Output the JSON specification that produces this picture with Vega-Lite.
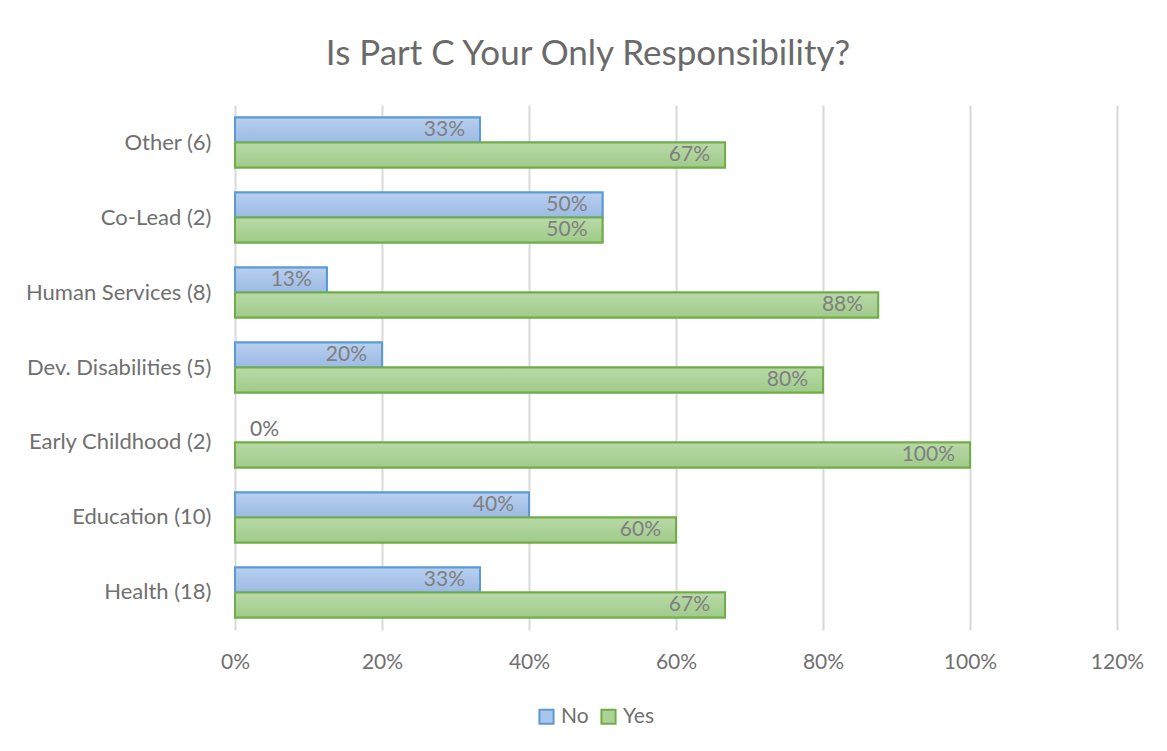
{
  "$schema": "https://vega.github.io/schema/vega-lite/v6.json",
  "autosize": "none",
  "width": 882,
  "height": 525,
  "padding": {"left": 235, "top": 105, "right": 50, "bottom": 121},
  "background": "white",
  "config": {
    "view": {"stroke": null},
    "font": "Lato",
    "axis": {"labelFont": "Lato", "labelColor": "#707070", "labelFontSize": 21, "ticks": false, "domain": false, "title": null}
  },
  "title": {
    "text": "Is Part C Your Only Responsibility?",
    "fontSize": 35,
    "fontWeight": "normal",
    "font": "Lato",
    "color": "#6a6a6a",
    "dx": -88,
    "offset": 33
  },
  "data": {
    "values": [
      {"category": "Other (6)", "series": "No", "value": 0.3333},
      {"category": "Other (6)", "series": "Yes", "value": 0.6667},
      {"category": "Co-Lead (2)", "series": "No", "value": 0.5},
      {"category": "Co-Lead (2)", "series": "Yes", "value": 0.5},
      {"category": "Human Services (8)", "series": "No", "value": 0.125},
      {"category": "Human Services (8)", "series": "Yes", "value": 0.875},
      {"category": "Dev. Disabilities (5)", "series": "No", "value": 0.2},
      {"category": "Dev. Disabilities (5)", "series": "Yes", "value": 0.8},
      {"category": "Early Childhood (2)", "series": "No", "value": 0},
      {"category": "Early Childhood (2)", "series": "Yes", "value": 1},
      {"category": "Education (10)", "series": "No", "value": 0.4},
      {"category": "Education (10)", "series": "Yes", "value": 0.6},
      {"category": "Health (18)", "series": "No", "value": 0.3333},
      {"category": "Health (18)", "series": "Yes", "value": 0.6667}
    ]
  },
  "encoding": {
    "y": {
      "field": "category",
      "type": "nominal",
      "sort": null,
      "scale": {"paddingInner": 0.3333, "paddingOuter": 0.1667},
      "axis": {"labelPadding": 24, "grid": false, "labelFontSize": 22, "labelLimit": 0}
    },
    "yOffset": {
      "field": "series",
      "type": "nominal",
      "sort": ["No", "Yes"],
      "scale": {"paddingInner": 0, "paddingOuter": 0}
    },
    "x": {
      "field": "value",
      "type": "quantitative",
      "scale": {"domain": [0, 1.2], "nice": false},
      "axis": {
        "format": ".0%",
        "values": [0, 0.2, 0.4, 0.6, 0.8, 1.0, 1.2],
        "grid": true,
        "gridColor": "#d9d9d9",
        "gridWidth": 2,
        "labelPadding": 21,
        "labelFlush": false
      }
    }
  },
  "layer": [
    {
      "transform": [{"filter": "datum.value > 0"}],
      "mark": {"type": "bar", "strokeWidth": 2},
      "encoding": {
        "fill": {
          "field": "series",
          "type": "nominal",
          "scale": {"domain": ["No", "Yes"], "range": ["#aac5eb", "#acd297"]},
          "legend": {
            "orient": "none",
            "legendX": 301,
            "legendY": 601,
            "direction": "horizontal",
            "title": null,
            "symbolType": "square",
            "symbolSize": 200,
            "symbolStrokeWidth": 2,
            "labelFont": "Lato",
            "labelFontSize": 21,
            "labelColor": "#707070",
            "columnPadding": 8,
            "labelOffset": 4
          }
        },
        "stroke": {
          "field": "series",
          "type": "nominal",
          "scale": {"domain": ["No", "Yes"], "range": ["#5b9bd5", "#70ad47"]}
        }
      }
    },
    {
      "transform": [{"filter": "datum.value > 0 && datum.series == 'No'"}],
      "mark": {
        "type": "bar",
        "strokeWidth": 2,
        "stroke": "#5b9bd5",
        "fill": {"gradient": "linear", "x1": 0, "y1": 0, "x2": 0, "y2": 1, "stops": [{"offset": 0, "color": "#b8cfef"}, {"offset": 1, "color": "#9cbae3"}]}
      },
      "encoding": {}
    },
    {
      "transform": [{"filter": "datum.value > 0 && datum.series == 'Yes'"}],
      "mark": {
        "type": "bar",
        "strokeWidth": 2,
        "stroke": "#70ad47",
        "fill": {"gradient": "linear", "x1": 0, "y1": 0, "x2": 0, "y2": 1, "stops": [{"offset": 0, "color": "#b9d9a8"}, {"offset": 1, "color": "#9fcb89"}]}
      },
      "encoding": {}
    },
    {
      "transform": [{"filter": "datum.value > 0"}],
      "mark": {"type": "text", "align": "right", "dx": -15, "fontSize": 21, "font": "Lato", "color": "#7f7f7f"},
      "encoding": {"text": {"field": "value", "type": "quantitative", "format": ".0%"}}
    },
    {
      "transform": [{"filter": "datum.value == 0"}],
      "mark": {"type": "text", "align": "left", "dx": 15, "fontSize": 21, "font": "Lato", "color": "#707070"},
      "encoding": {"text": {"field": "value", "type": "quantitative", "format": ".0%"}}
    }
  ]
}
